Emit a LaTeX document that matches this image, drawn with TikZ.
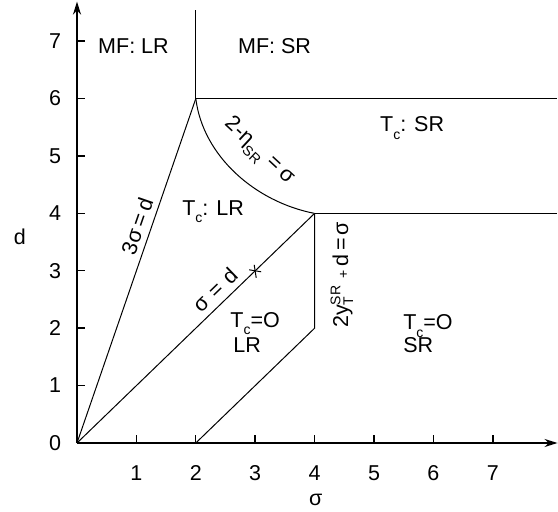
\documentclass[tikz,border=0pt]{standalone}
\usepackage{fontspec}
\setmainfont{Liberation Sans}
\usetikzlibrary{arrows.meta}
\newcommand\sbx[1]{\raisebox{-0.35em}{\fontsize{14}{14}\selectfont #1}}
\newcommand\scr[1]{\mbox{\fontsize{14}{14}\selectfont #1}}
\begin{document}
\begin{tikzpicture}[x=59.4pt,y=57.4pt,
  font=\fontsize{21.5}{24}\selectfont,
  axis/.style={line width=1.8pt,-{Stealth[length=13pt,width=8pt]}},
  bound/.style={line width=1pt},
  tickmark/.style={line width=1.4pt},
  lbl/.style={inner sep=0pt,anchor=base west},
  rlbl/.style={inner sep=0pt}]
\useasboundingbox (-77pt,-69pt) rectangle (481pt,443pt);
\coordinate (O) at (0,0);
\coordinate (A) at (2,6);
\coordinate (B) at (4,4);
\coordinate (C) at (4,2);
\coordinate (D) at (2,0);
\coordinate (Xe) at (8.09,0);
\coordinate (Ye) at (0,7.69);
\coordinate (Top) at (2,7.54);
\coordinate (R6) at (8.08,6);
\coordinate (R4) at (8.08,4);
\coordinate (S) at (3,3);
% axes
\draw[axis] (O) -- (Xe);
\draw[axis] (O) -- (Ye);
\foreach \i in {1,...,7}{
  \draw[tickmark] (\i,0) -- ++(0,8pt);
  \draw[tickmark] (0,\i) -- ++(8pt,0);
  \node (xt\i) at (\i,-0.53) {\i};
  \node (yt\i) at (-0.37,\i) {\i};
}
\node (yt0) at (-0.37,0) {0};
\node (dlab) at (-0.96,3.59) {d};
\node (slab) at (4.02,-0.99) {σ};
% boundaries
\draw[bound] (O) -- (A);
\draw[bound] (O) -- (B);
\draw[bound] (A) -- (Top);
\draw[bound] (A) -- (R6);
\draw[bound] (B) -- (R4);
\draw[bound] (B) -- (C) -- (D);
\draw[bound] (A) .. controls (2.12,5.0) and (3.0,4.2) .. (B);
\draw[bound] ([shift={(-6pt,1pt)}]S) -- ([shift={(6pt,-1pt)}]S);
\draw[bound] ([shift={(-1pt,6pt)}]S) -- ([shift={(1pt,-7pt)}]S);
% region labels
\node[lbl] (mflr) at (0.354,6.794) {MF: LR};
\node[lbl] (mfsr) at (2.71,6.794) {MF: SR};
\node[lbl] (tcsr) at (5.10,5.42) {T\sbx{c}: SR};
\node[lbl] (tclr) at (1.77,3.97) {T\sbx{c}: LR};
\node[lbl] (tz1) at (2.58,2.02) {T\sbx{c}=O};
\node[lbl] (tz2) at (2.63,1.585) {LR};
\node[lbl] (tzs1) at (5.49,1.97) {T\sbx{c}=O};
\node[lbl] (tzs2) at (5.49,1.57) {SR};
% boundary labels
\node[rlbl,rotate=71] (l3) at (1.01,3.78) {3σ\hspace{0.2em}=\hspace{0.2em}d};
\node[rlbl,rotate=44] (l1) at (2.32,2.67) {σ\hspace{0.35em}=\hspace{0.35em}d};
\node[rlbl,rotate=-43] (leta) at (3.05,5.07) {2-η\sbx{SR}\hspace{0.3em}=\hspace{0.2em}σ};
\node[rlbl,rotate=90] (ly) at (4.46,2.93) {2y$^{\scr{SR}}_{\scr{T}}$\hspace{0.3em}{\fontsize{14}{14}\selectfont +}\hspace{0.2em}d\hspace{0.15em}=\hspace{0.15em}σ};
\end{tikzpicture}
\end{document}
